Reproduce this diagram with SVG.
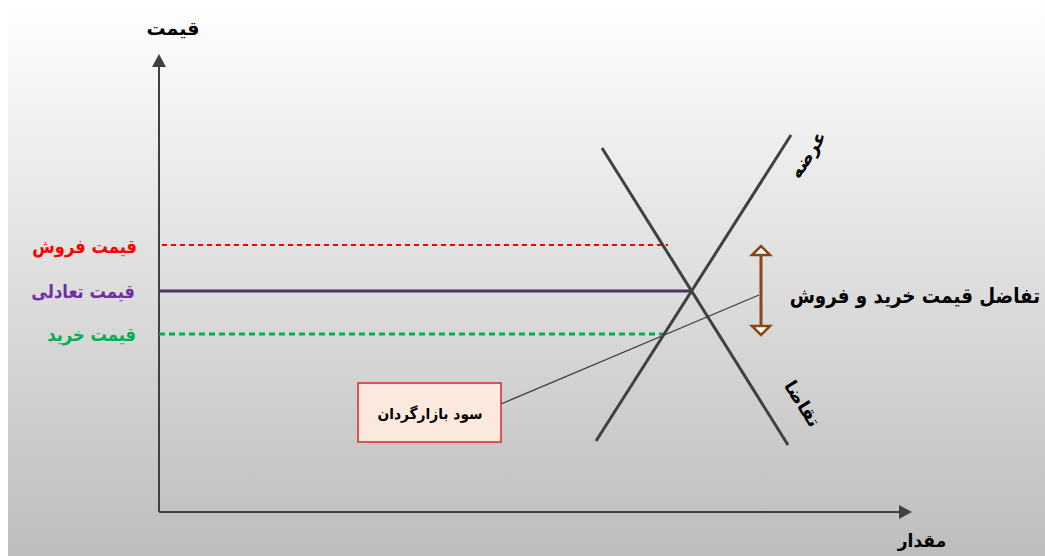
<svg xmlns="http://www.w3.org/2000/svg" width="1045" height="556" viewBox="0 0 1045 556">
<defs>
<linearGradient id="bg" x1="0" y1="0" x2="0" y2="1">
<stop offset="0" stop-color="#ffffff"/>
<stop offset="1" stop-color="#bdbdbd"/>
</linearGradient>
<marker id="axisHead" viewBox="0 0 10 10" refX="10" refY="5" markerWidth="10" markerHeight="10" markerUnits="userSpaceOnUse" orient="auto" overflow="visible">
<path d="M0,-2 L13,5 L0,12 Z" fill="#404040"/>
</marker>
<marker id="openHead" viewBox="0 0 20 10" refX="18" refY="5" markerWidth="20" markerHeight="20" markerUnits="userSpaceOnUse" orient="auto" overflow="visible">
<path d="M9,-4 L18,5 L9,14 Z" fill="#ffffff" stroke="#8b4513" stroke-width="2.5" stroke-linejoin="miter"/>
</marker>
<style>
text{font-family:"DejaVu Sans","Noto Sans",sans-serif;font-weight:bold;}
.lbl{font-size:19px;}
.axis{stroke:#404040;stroke-width:2;fill:none;}
.curve{stroke:#404040;stroke-width:3;fill:none;}
</style>
</defs>
<rect x="0" y="0" width="1045" height="556" fill="#ffffff"/>
<rect x="8" y="0" width="1037" height="556" fill="url(#bg)"/>

<g id="connectors">
<line class="axis" x1="159" y1="512" x2="159" y2="57" marker-end="url(#axisHead)"/>
<line class="axis" x1="159" y1="512" x2="909" y2="512" marker-end="url(#axisHead)"/>
<line x1="162" y1="245" x2="668" y2="245" stroke="#ff0000" stroke-width="2" stroke-dasharray="5,4"/>
<line x1="159" y1="291" x2="693" y2="291" stroke="#433463" stroke-width="3"/>
<line x1="159" y1="334" x2="663" y2="334" stroke="#00b050" stroke-width="3" stroke-dasharray="6,4"/>
<line class="curve" x1="602" y1="148" x2="788" y2="445"/>
<line class="curve" x1="596" y1="441" x2="791" y2="135"/>
<line x1="761" y1="290" x2="761" y2="246" stroke="#8b4513" stroke-width="3" marker-end="url(#openHead)"/>
<line x1="761" y1="290" x2="761" y2="335" stroke="#8b4513" stroke-width="3" marker-end="url(#openHead)"/>
<line x1="501" y1="404" x2="759" y2="295" stroke="#404040" stroke-width="1.3"/>
</g>

<g id="axis-y-label"><text x="173" y="35" font-size="19" text-anchor="middle" fill="#000">قیمت</text></g>
<g id="axis-x-label"><text transform="translate(922,547) scale(0.95,1)" font-size="18" text-anchor="middle" fill="#000">مقدار</text></g>
<g id="sell-price"><text class="lbl" transform="translate(137,253) scale(0.86,1)" text-anchor="end" fill="#ff0000">قیمت فروش</text></g>
<g id="eq-price"><text class="lbl" transform="translate(135,298) scale(0.86,1)" text-anchor="end" fill="#7030a0">قیمت تعادلی</text></g>
<g id="buy-price"><text class="lbl" transform="translate(136,341) scale(0.86,1)" text-anchor="end" fill="#00b050">قیمت خرید</text></g>
<g id="spread-label"><text transform="translate(1040,303) scale(0.87,1)" font-size="21" text-anchor="end" fill="#000">تفاضل قیمت خرید و فروش</text></g>
<g id="supply-label"><text transform="translate(813,158) rotate(-57.6)" font-size="18" text-anchor="middle" fill="#000">عرضه</text></g>
<g id="demand-label"><text transform="translate(797,407) rotate(57.7)" font-size="18" text-anchor="middle" fill="#000">تقاضا</text></g>
<g id="profit-box">
<rect x="358" y="383" width="143" height="59" fill="#fbe9dd" stroke="#d42a2a" stroke-width="1.5"/>
<text transform="translate(430,419) scale(0.92,1)" font-size="15" text-anchor="middle" fill="#000">سود بازارگردان</text>
</g>
</svg>
